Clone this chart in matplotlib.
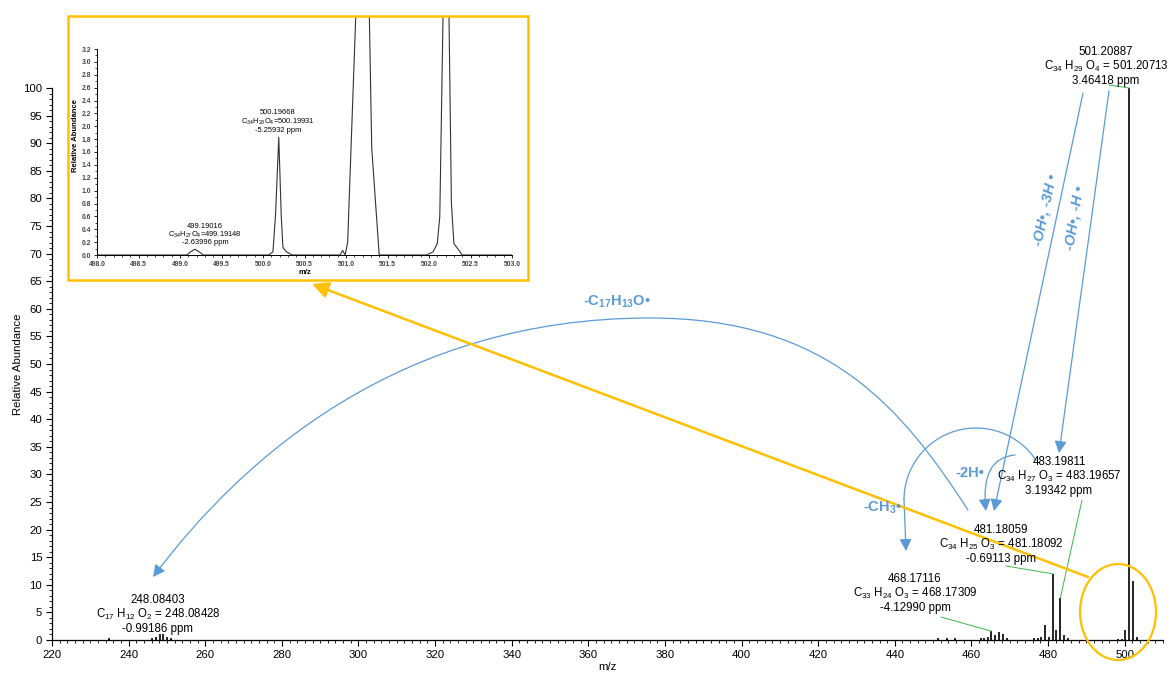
import matplotlib
matplotlib.use("Agg")
import matplotlib.pyplot as plt
from matplotlib import transforms as mtransforms
from matplotlib.patches import FancyArrowPatch, Rectangle, Ellipse, Arc
from matplotlib.path import Path
from matplotlib.ticker import MultipleLocator, FixedLocator, FormatStrFormatter

plt.rcParams['font.family'] = ['Liberation Sans', 'DejaVu Sans']
plt.rcParams['mathtext.fontset'] = 'custom'
plt.rcParams['mathtext.rm'] = 'Liberation Sans'
plt.rcParams['mathtext.it'] = 'Liberation Sans:italic'
plt.rcParams['mathtext.bf'] = 'Liberation Sans:bold'

# ---------------- spectrum (centroid sticks) ----------------
mz = [234.8, 246.1, 247.1, 248.084, 249.1, 250.1, 251.1,
      451.3, 453.5, 455.6, 462.6, 463.4, 464.2, 465.2, 466.2, 467.2, 468.171, 469.2,
      476.4, 477.3, 478.2, 479.2, 480.2, 481.181, 482.2, 483.198, 484.2, 485.2,
      498.2, 499.190, 500.197, 501.209, 502.21, 503.2]
abundance = [0.4, 0.3, 0.5, 1.1, 1.1, 0.6, 0.3,
             0.3, 0.3, 0.3, 0.3, 0.4, 0.6, 1.6, 0.9, 1.4, 1.1, 0.4,
             0.3, 0.4, 0.5, 2.8, 0.6, 12.0, 1.8, 7.6, 0.9, 0.3,
             0.2, 0.1, 1.8, 100.0, 10.6, 0.5]

# ---------------- zoomed profile 498-503 ----------------
profile_mz = [498.00, 499.08, 499.13, 499.18, 499.23, 499.28,
              500.07, 500.12, 500.15, 500.19, 500.22, 500.24, 500.28, 500.31, 500.35,
              500.93, 500.96, 500.99, 501.02, 501.12, 501.21, 501.28, 501.31, 501.40,
              501.97, 502.05, 502.10, 502.13, 502.17, 502.21, 502.24, 502.27, 502.30,
              502.40, 503.00]
profile_ab = [0, 0, 0.05, 0.09, 0.05, 0,
              0, 0.05, 0.6, 1.83, 0.6, 0.12, 0.05, 0.03, 0,
              0, 0.07, 0, 0.2, 3.8, 100.0, 3.8, 1.66, 0,
              0, 0.05, 0.18, 0.6, 3.8, 10.6, 3.8, 0.8, 0.18,
              0, 0]

# ---------------- peak labels ----------------
label_mass = ["501.20887", "483.19811", "481.18059", "468.17116", "248.08403"]
label_formula = [r"C$_{34}$ H$_{29}$ O$_{4}$ = 501.20713",
                 r"C$_{34}$ H$_{27}$ O$_{3}$ = 483.19657",
                 r"C$_{34}$ H$_{25}$ O$_{3}$ = 481.18092",
                 r"C$_{33}$ H$_{24}$ O$_{3}$ = 468.17309",
                 r"C$_{17}$ H$_{12}$ O$_{2}$ = 248.08428"]
label_ppm = ["3.46418 ppm", "3.19342 ppm", "-0.69113 ppm", "-4.12990 ppm", "-0.99186 ppm"]
label_peak_mz = [501.209, 483.198, 481.181, 465.2, None]
label_peak_ab = [100.0, 7.6, 12.0, 1.6, None]

inset_mass = ["499.19016", "500.19668"]
inset_formula = [r"C$_{34}$H$_{27}$O$_{4}$=499.19148", r"C$_{34}$H$_{28}$O$_{4}$=500.19931"]
inset_ppm = ["-2.63996 ppm", "-5.25932 ppm"]

loss_labels = [r"-C$_{\mathbf{17}}$H$_{\mathbf{13}}$O•", "-2H•", r"-CH$_{\mathbf{3}}$•",
               "-OH•, -3H •", "-OH•, -H •"]

BLUE = "#5B9BD5"
ORANGE = "#FFC000"
GREEN = "#3DB54A"

W, H = 1173, 673
fig = plt.figure(figsize=(W / 100, H / 100), dpi=100)
# pixel coordinates with origin at the top-left corner
pxT = mtransforms.Affine2D().scale(1 / W, -1 / H).translate(0, 1) + fig.transFigure


def box(left, top, right, bottom):
    return [left / W, 1 - bottom / H, (right - left) / W, (bottom - top) / H]


# ---------------- main spectrum ----------------
ax = fig.add_axes(box(52, 88, 1163, 640))
ax.vlines(mz, 0, abundance, color="black", lw=1.2)
ax.set_xlim(220, 510)
ax.set_ylim(0, 100)
ax.xaxis.set_major_locator(MultipleLocator(20))
ax.xaxis.set_minor_locator(MultipleLocator(2))
ax.yaxis.set_major_locator(MultipleLocator(5))
ax.yaxis.set_minor_locator(MultipleLocator(1))
for s in ("top", "right"):
    ax.spines[s].set_visible(False)
for s in ("left", "bottom"):
    ax.spines[s].set_linewidth(0.9)
ax.tick_params(which="major", direction="out", length=4, width=0.8, labelsize=8.2, pad=3)
ax.tick_params(which="minor", direction="out", length=2.5, width=0.6)
ax.set_xlabel("m/z", fontsize=8.2, labelpad=2)
ax.set_ylabel("Relative Abundance", fontsize=8.2, labelpad=0)

label_pos = [(1106, 52), (1059, 462), (1001, 530), (915, 579), (158, 600)]
leader_start = [(1109, 85), (1082, 500), (1006, 566), (941, 617), None]
for i, (cx, cy) in enumerate(label_pos):
    for j, s in enumerate((label_mass[i], label_formula[i], label_ppm[i])):
        fig.text(cx, cy + 14.5 * j, s, transform=pxT, ha="center", va="center", fontsize=8.3)
    if label_peak_mz[i] is not None:
        ax.annotate("", xy=(label_peak_mz[i], label_peak_ab[i]), xycoords="data",
                    xytext=leader_start[i], textcoords=pxT,
                    arrowprops=dict(arrowstyle="-", color=GREEN, lw=0.7,
                                    shrinkA=0, shrinkB=0))

# ---------------- fragmentation arrows ----------------
head = "-|>,head_length=0.55,head_width=0.28"


def arrow_path(verts, codes):
    a = FancyArrowPatch(path=Path(verts, codes), transform=pxT, arrowstyle=head,
                        mutation_scale=13, color=BLUE, lw=0.9)
    fig.add_artist(a)


C4 = Path.CURVE4
arrow_path([(968, 510), (903, 410), (830, 318), (650, 318),
            (400, 318), (243, 457), (153, 577)],
           [Path.MOVETO, C4, C4, C4, C4, C4, C4])
arrow_path([(1015, 455), (980, 458), (986, 511)],
           [Path.MOVETO, Path.CURVE3, Path.CURVE3])
arrow_path([(1083, 93), (994, 511)], [Path.MOVETO, Path.LINETO])
arrow_path([(1109, 91), (1059, 453)], [Path.MOVETO, Path.LINETO])
fig.add_artist(Arc((976, 500), 144, 144, theta1=180, theta2=327, transform=pxT,
                   color=BLUE, lw=0.9))
arrow_path([(904, 500), (906, 551)], [Path.MOVETO, Path.LINETO])

blue_kw = dict(transform=pxT, ha="center", va="center", color=BLUE,
               fontsize=10.5, fontweight="bold")
fig.text(617, 302, loss_labels[0], **blue_kw)
fig.text(970, 473, loss_labels[1], **blue_kw)
fig.text(882, 508, loss_labels[2], **blue_kw)
fig.text(1045, 210, loss_labels[3], rotation=78, fontstyle="italic", **blue_kw)
fig.text(1075, 218, loss_labels[4], rotation=81, fontstyle="italic", **blue_kw)

# ---------------- zoom call-out ----------------
fig.add_artist(Ellipse((1118, 612), 76, 96, transform=pxT, fill=False,
                       ec=ORANGE, lw=1.6))
fig.add_artist(FancyArrowPatch((1088, 577), (312, 284), transform=pxT,
                               arrowstyle="-|>,head_length=0.7,head_width=0.35",
                               mutation_scale=14, color=ORANGE, lw=1.8,
                               shrinkA=0, shrinkB=0))
fig.add_artist(Rectangle((68, 16), 460, 264, transform=pxT, fill=False,
                         ec=ORANGE, lw=1.8))

# ---------------- inset profile ----------------
axi = fig.add_axes(box(97, 16, 512, 255))
axi.set_facecolor("none")
axi.plot(profile_mz, profile_ab, color="#333333", lw=0.8)
axi.set_xlim(498, 503)
axi.set_ylim(0, 3.2 * 239 / 206)
axi.spines["left"].set_bounds(0, 3.2)
for s in ("top", "right"):
    axi.spines[s].set_visible(False)
for s in ("left", "bottom"):
    axi.spines[s].set_linewidth(0.7)
axi.yaxis.set_major_locator(FixedLocator([k * 0.2 for k in range(17)]))
axi.yaxis.set_minor_locator(FixedLocator([k * 0.1 for k in range(33)]))
axi.yaxis.set_major_formatter(FormatStrFormatter("%.1f"))
axi.xaxis.set_major_locator(MultipleLocator(0.5))
axi.xaxis.set_minor_locator(MultipleLocator(0.1))
axi.xaxis.set_major_formatter(FormatStrFormatter("%.1f"))
axi.tick_params(which="major", direction="out", length=2.5, width=0.6,
                labelsize=4.9, pad=1.5, labelcolor="#444444")
axi.tick_params(which="minor", direction="out", length=1.5, width=0.5)
for lab in axi.get_xticklabels() + axi.get_yticklabels():
    lab.set_fontweight("bold")
axi.set_xlabel("m/z", fontsize=5.5, fontweight="bold", labelpad=1)
axi.set_ylabel("Relative Abundance", fontsize=5.5, fontweight="bold", labelpad=2)

inset_pos = [(205, 226), (278, 113)]
for i, (cx, cy) in enumerate(inset_pos):
    for j, s in enumerate((inset_mass[i], inset_formula[i], inset_ppm[i])):
        fig.text(cx, cy + 8.5 * j, s, transform=pxT, ha="center", va="center",
                 fontsize=5.4)

fig.savefig("out.png", dpi=100)
